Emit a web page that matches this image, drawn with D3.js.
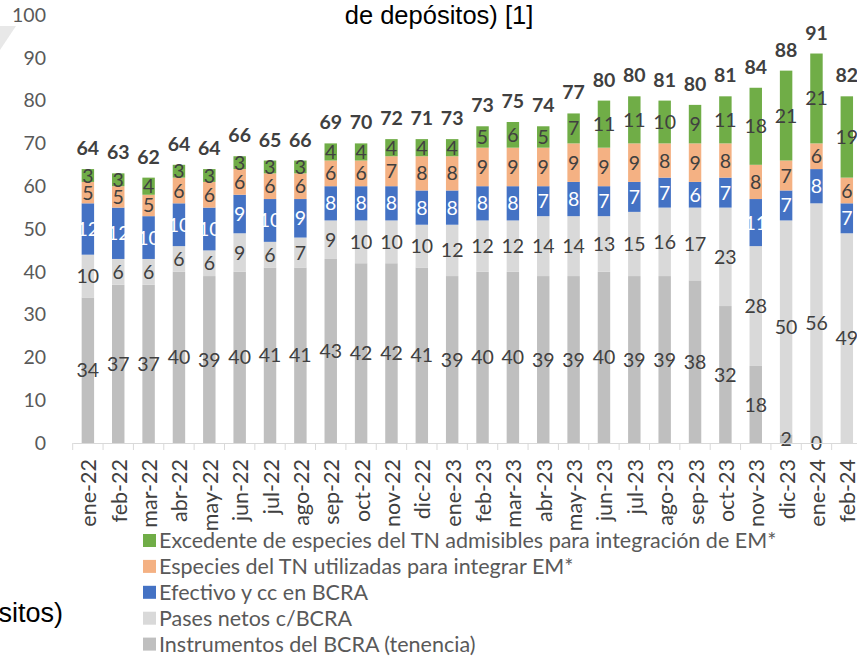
<!DOCTYPE html>
<html><head><meta charset="utf-8">
<script src="https://cdn.jsdelivr.net/npm/d3@7"></script>
<style>
body{margin:0;background:#fff;}
svg{display:block;}
text{font-family:Lato,"Open Sans",sans-serif;}
</style></head>
<body><svg id="c" width="857" height="656"></svg>
<script>
const months=["ene-22","feb-22","mar-22","abr-22","may-22","jun-22","jul-22","ago-22","sep-22","oct-22","nov-22","dic-22","ene-23","feb-23","mar-23","abr-23","may-23","jun-23","jul-23","ago-23","sep-23","oct-23","nov-23","dic-23","ene-24","feb-24"];
const instrumentos=[34,37,37,40,39,40,41,41,43,42,42,41,39,40,40,39,39,40,39,39,38,32,18,2,0,null];
const pases=[10,6,6,6,6,9,6,7,9,10,10,10,12,12,12,14,14,13,15,16,17,23,28,50,56,49];
const efectivo=[12,12,10,10,10,9,10,9,8,8,8,8,8,8,8,7,8,7,7,7,6,7,11,7,8,7];
const especiesUtil=[5,5,5,6,6,6,6,6,6,6,7,8,8,9,9,9,9,9,9,8,9,8,8,7,6,6];
const excedente=[3,3,4,3,3,3,3,3,4,4,4,4,4,5,6,5,7,11,11,10,9,11,18,21,21,19];
const totals=[64,63,62,64,64,66,65,66,69,70,72,71,73,73,75,74,77,80,80,81,80,81,84,88,91,82];
const yTicks=[0,10,20,30,40,50,60,70,80,90,100];

const seriesNames={
  instrumentos:"Instrumentos del BCRA (tenencia)",
  pases:"Pases netos c/BCRA",
  efectivo:"Efectivo y cc en BCRA",
  especiesUtil:"Especies del TN utilizadas para integrar EM*",
  excedente:"Excedente de especies del TN admisibles para integración de EM*"
};
const keys=["instrumentos","pases","efectivo","especiesUtil","excedente"];
const colors={instrumentos:"#bfbfbf",pases:"#d9d9d9",efectivo:"#4472c4",especiesUtil:"#f4b183",excedente:"#70ad47"};
const labelColors={instrumentos:"#404040",pases:"#404040",efectivo:"#ffffff",especiesUtil:"#404040",excedente:"#404040"};

const rows=months.map((m,i)=>({month:m,instrumentos:instrumentos[i],pases:pases[i],efectivo:efectivo[i],especiesUtil:especiesUtil[i],excedente:excedente[i],total:totals[i]}));

const NUM=19.5, TXT=21.5;
const svg=d3.select("#c");
const x=d3.scaleBand().domain(months).range([72.7,862]).paddingInner(0.59).paddingOuter(0.295);
const y=d3.scaleLinear().domain([0,100]).range([443,15]);

svg.append("path").attr("d","M0,26L16,26L0,50Z").attr("fill","#e8e8e8");

svg.append("text").attr("x",439).attr("y",24).attr("text-anchor","middle")
  .style("font-family","'Liberation Sans',Arial,sans-serif").style("font-size","25.5px").attr("fill","#000")
  .text("de depósitos) [1]");
svg.append("text").attr("x",63).attr("y",622).attr("text-anchor","end")
  .style("font-family","'Liberation Sans',Arial,sans-serif").style("font-size","27px").attr("fill","#000")
  .text("(en % de depósitos)");

const stackGen=d3.stack().keys(keys).value((d,k)=>d[k]||0);
const stacked=stackGen(rows);

const g=svg.append("g");
stacked.forEach(s=>{
  const key=s.key;
  g.append("g").selectAll("rect").data(s).join("rect")
    .attr("x",d=>x(d.data.month)).attr("width",x.bandwidth())
    .attr("y",d=>y(d[1])).attr("height",d=>Math.max(0,y(d[0])-y(d[1])))
    .attr("fill",colors[key]);
});
stacked.forEach(s=>{
  const key=s.key;
  g.append("g").selectAll("text").data(s.filter(d=>d.data[key]!==null)).join("text")
    .attr("x",d=>x(d.data.month)+x.bandwidth()/2)
    .attr("y",d=>(y(d[0])+y(d[1]))/2)
    .attr("dy","0.36em").attr("text-anchor","middle")
    .attr("fill",labelColors[key]).style("font-size",NUM+"px")
    .text(d=>d.data[key]);
});
const topLayer=stacked[stacked.length-1];
g.append("g").selectAll("text").data(topLayer).join("text")
  .attr("x",d=>x(d.data.month)+x.bandwidth()/2)
  .attr("y",d=>y(d[1])-14)
  .attr("text-anchor","middle").attr("fill","#404040")
  .style("font-size",NUM+"px").style("font-weight","bold")
  .text(d=>d.data.total);

const ya=svg.append("g").attr("transform","translate(46,0)")
  .call(d3.axisLeft(y).tickValues(yTicks).tickSize(0).tickPadding(0));
ya.select(".domain").remove();
ya.selectAll("text").attr("fill","#595959").style("font-size",NUM+"px").style("font-family","Lato,sans-serif");

const xa=svg.append("g").attr("transform","translate(0,443)")
  .call(d3.axisBottom(x).tickSize(0).tickSizeOuter(0));
xa.select(".domain").attr("stroke","#d9d9d9");
xa.selectAll("text")
  .attr("transform","translate(1,16) rotate(-90)")
  .attr("x",0).attr("y",0).attr("dy","0.35em")
  .attr("text-anchor","end").attr("fill","#404040")
  .style("font-size",TXT+"px").style("font-family","Lato,sans-serif");
const step=x.step();
const bounds=months.map(m=>x(m)-(step-x.bandwidth())/2);
xa.selectAll(".bt").data(bounds).join("line").attr("class","bt")
  .attr("x1",d=>d).attr("x2",d=>d).attr("y1",0).attr("y2",7).attr("stroke","#d9d9d9");

const legendOrder=["excedente","especiesUtil","efectivo","pases","instrumentos"];
const lg=svg.append("g");
legendOrder.forEach((k,i)=>{
  const yy=540.5+i*25.9;
  lg.append("rect").attr("x",143).attr("y",yy-6.5).attr("width",13).attr("height",13).attr("fill",colors[k]);
  lg.append("text").attr("x",159).attr("y",yy).attr("dy","0.35em").attr("fill","#595959")
    .style("font-size",TXT+"px").text(seriesNames[k]);
});
</script></body></html>
